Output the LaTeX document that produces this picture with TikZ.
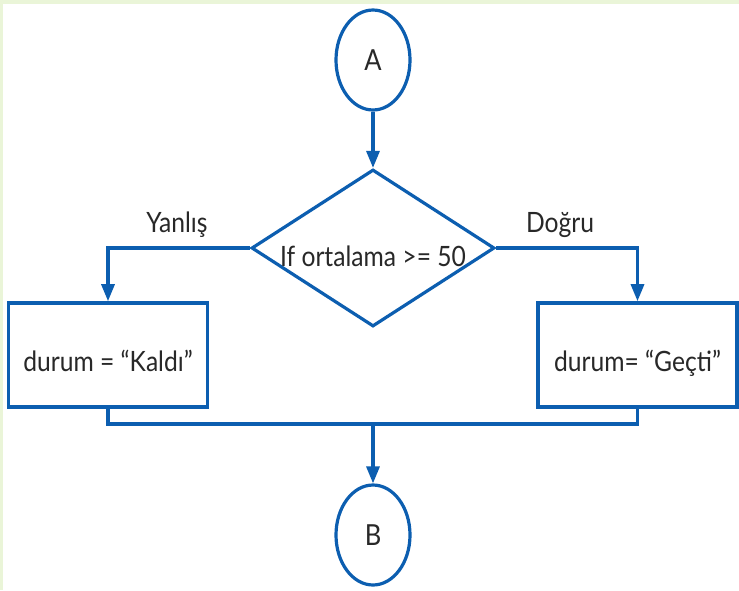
\documentclass[tikz,border=0pt]{standalone}
\usepackage{fontspec}
\setmainfont{Lato}[FakeStretch=0.88]
\usetikzlibrary{shapes.geometric,arrows.meta}
\definecolor{fblue}{RGB}{12,94,176}
\definecolor{bggreen}{RGB}{234,245,216}
\definecolor{txt}{RGB}{40,40,40}
\tikzset{
  conn/.style={draw=fblue,line width=3.2pt,ellipse,minimum width=74pt,minimum height=100pt,inner sep=0pt,text=txt,font=\fontsize{29}{32}\selectfont},
  procbox/.style={draw=fblue,line width=3.6pt,rectangle,minimum width=199pt,minimum height=104pt,inner sep=0pt},
  decis/.style={draw=fblue,line width=3.2pt,diamond,minimum width=243pt,minimum height=157pt,inner sep=0pt},
  lbl/.style={font=\fontsize{28}{32}\selectfont,inner sep=0pt,text=txt},
  arr/.style={draw=fblue,line width=3.2pt,-{Triangle[length=17pt,width=13pt]}},
  ln/.style={draw=fblue,line width=3.2pt}
}
\begin{document}
\begin{tikzpicture}[x=1pt,y=-1pt]
\fill[bggreen] (0,0) rectangle (739,590);
\fill[white] (3,4) rectangle (739,590);
\useasboundingbox (0,0) rectangle (739,590);
\node[conn] (A) at (373,60) {A};
\node[decis] (D) at (373,248) {};
\node[lbl] (Dt) at (373,256) {If ortalama >= 50};
\node[procbox] (L) at (108,355) {};
\node[lbl] (Lt) at (108,361) {durum = “Kaldı”};
\node[procbox] (R) at (637.5,355) {};
\node[lbl] (Rt) at (637.5,363) {durum= “Geçti”};
\node[lbl] (Y) at (177,225) {Yanlış};
\node[lbl] (T) at (560,225) {Doğru};
\node[conn] (B) at (373,535) {B};
\coordinate (M) at (373,424);
\draw[arr] (A.south) -- (D.north);
\draw[arr] (D.west) -| (L.north);
\draw[arr] (D.east) -| (R.north);
\draw[ln] (L.south) |- (M) -| (R.south);
\draw[arr] (M) -- (B.north);
\end{tikzpicture}
\end{document}
